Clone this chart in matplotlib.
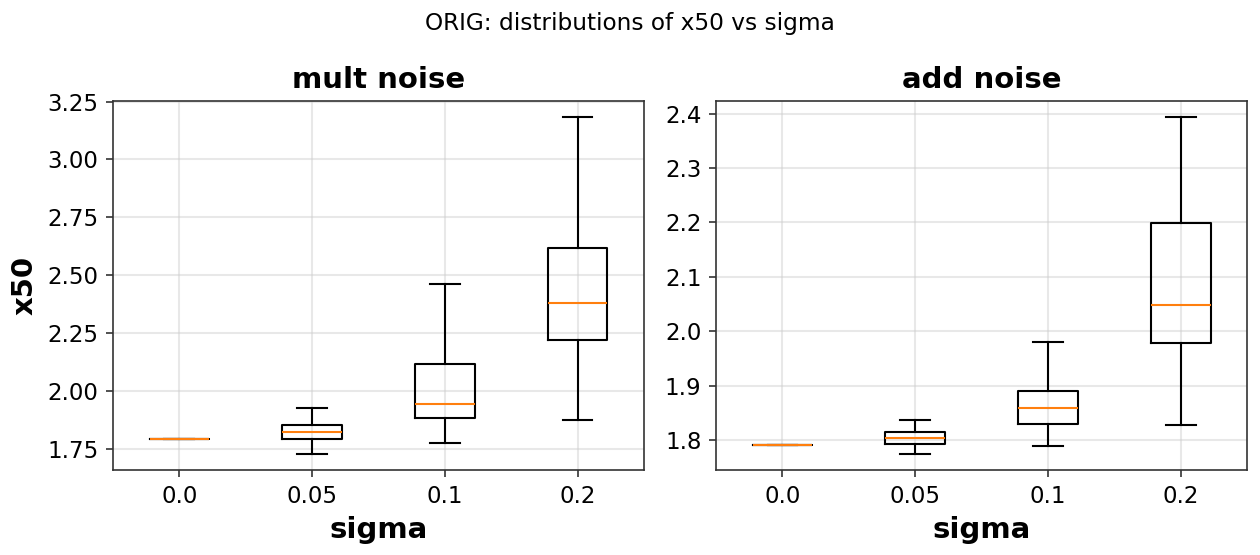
import matplotlib
matplotlib.use("Agg")
import matplotlib.pyplot as plt
from matplotlib.ticker import MultipleLocator

# sigma levels shown on the x axis
sigmas = ["0.0", "0.05", "0.1", "0.2"]

# box statistics, mult noise panel
mult_whislo = [1.790, 1.728, 1.776, 1.874]
mult_q1 = [1.790, 1.792, 1.884, 2.220]
mult_med = [1.790, 1.822, 1.944, 2.379]
mult_q3 = [1.790, 1.853, 2.116, 2.616]
mult_whishi = [1.790, 1.927, 2.461, 3.181]

# add noise panel
add_whislo = [1.791, 1.775, 1.789, 1.828]
add_q1 = [1.791, 1.793, 1.830, 1.978]
add_med = [1.791, 1.804, 1.859, 2.048]
add_q3 = [1.791, 1.815, 1.890, 2.199]
add_whishi = [1.791, 1.837, 1.980, 2.393]


def make_stats(lo, q1, med, q3, hi):
    return [
        {"label": lab, "whislo": a, "q1": b, "med": c, "q3": d, "whishi": e, "fliers": []}
        for lab, a, b, c, d, e in zip(sigmas, lo, q1, med, q3, hi)
    ]


plt.rcParams.update({
    "axes.edgecolor": "#333333",
    "xtick.color": "#333333",
    "ytick.color": "#333333",
    "xtick.labelcolor": "black",
    "ytick.labelcolor": "black",
    "xtick.labelsize": 11,
    "ytick.labelsize": 11,
})

fig, axes = plt.subplots(1, 2, figsize=(8.4, 3.7), dpi=150)
fig.subplots_adjust(left=0.0897, right=0.9897, top=0.8186, bottom=0.1523, wspace=0.136)

panels = [
    ("mult noise", make_stats(mult_whislo, mult_q1, mult_med, mult_q3, mult_whishi)),
    ("add noise", make_stats(add_whislo, add_q1, add_med, add_q3, add_whishi)),
]
for ax, (title, stats) in zip(axes, panels):
    ax.bxp(stats, showfliers=False)
    ax.grid(True, color="#cccccc", alpha=0.45, linewidth=1.0)
    ax.set_axisbelow(True)
    ax.set_title(title, fontsize=14, fontweight="bold")
    ax.set_xlabel("sigma", fontsize=14, fontweight="bold")

axes[0].yaxis.set_major_locator(MultipleLocator(0.25))
axes[0].set_ylabel("x50", fontsize=14, fontweight="bold")
fig.suptitle("ORIG: distributions of x50 vs sigma", fontsize=11.2, y=0.957, va="center")

fig.savefig("out.png", dpi=150)
